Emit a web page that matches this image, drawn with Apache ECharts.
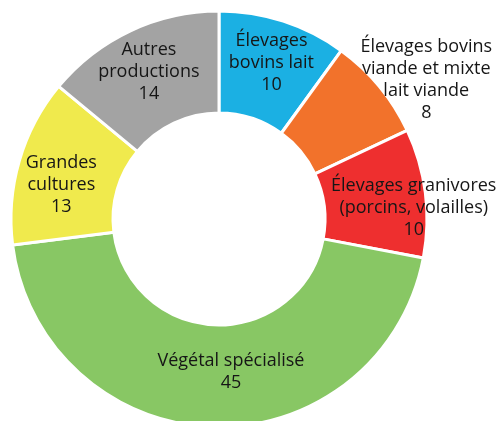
<!DOCTYPE html>
<html>
<head>
<meta charset="utf-8">
<script src="https://cdn.jsdelivr.net/npm/echarts@6/dist/echarts.min.js"></script>
<style>
    html, body {margin: 0; padding: 0; background: #fff;}
    #pie-chart-exploitations {width: 502px; height: 421px;}
</style>
</head>
<body>
<div id="pie-chart-exploitations"></div>
<script>
var categories = [
    "Élevages\nbovins lait",
    "Élevages bovins\nviande et mixte\nlait viande",
    "Élevages granivores\n(porcins, volailles)",
    "Végétal spécialisé",
    "Grandes\ncultures",
    "Autres\nproductions"
];
var values = [10, 8, 10, 45, 13, 14];
var colors = ['#1BB0E3', '#F2722B', '#EE2F2F', '#88C764', '#F0EA4D', '#A3A3A3'];

// label nudges (px) so each label sits where the original put it
var labelOffsets = [[3, -4], [84, -37], [36, 9], [17, -7], [-4, 11], [-2, -2]];

var pieChart = echarts.init(document.getElementById("pie-chart-exploitations"));
var option = {
    animation: false,
    color: colors,
    series: [{
        name: "Exploitations",
        type: "pie",
        center: [219, 219],
        radius: [106, 208],
        startAngle: 90,
        clockwise: true,
        avoidLabelOverlap: false,
        itemStyle: {borderColor: "#fff", borderWidth: 3},
        label: {
            show: true,
            position: "inside",
            formatter: "{b}\n{c}",
            color: "#161616",
            fontFamily: "Open Sans",
            fontSize: 18,
            lineHeight: 22,
            align: "center"
        },
        labelLine: {show: false},
        data: categories.map(function (name, i) {
            return {
                name: name,
                value: values[i],
                label: {offset: labelOffsets[i]}
            };
        })
    }]
};
pieChart.setOption(option, !0);
</script>
</body>
</html>
